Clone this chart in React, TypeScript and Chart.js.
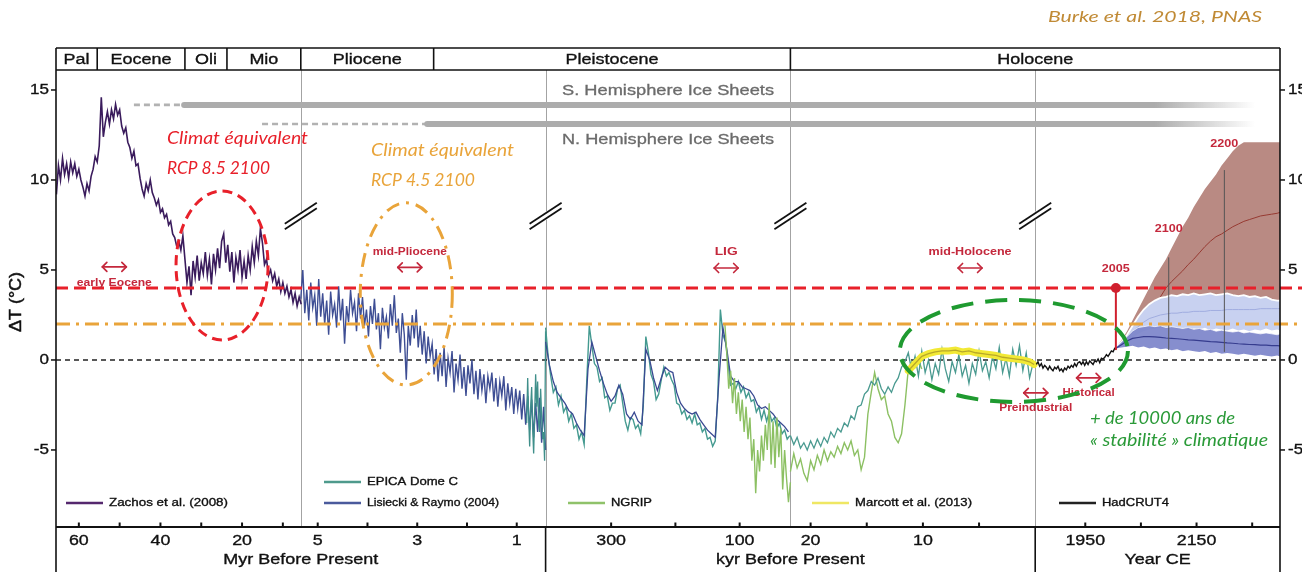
import React, { useEffect, useRef } from "react";
import { Chart, registerables } from "chart.js";

Chart.register(...registerables);

// ---------------- broken time axis: five panels ----------------
const panelRanges: [number, number][] = [
  [65.6, 5.6], // Myr
  [5.34, 0.42], // Myr
  [402, 21], // kyr
  [21.8, 0], // kyr
  [1860, 2300], // year CE
];
const U = (p: number, t: number) => p + (t - panelRanges[p][0]) / (panelRanges[p][1] - panelRanges[p][0]);

const majorTickPanels = [0, 0, 0, 1, 1, 1, 2, 2, 3, 3, 4, 4];
const majorTickValues = [60, 40, 20, 5, 3, 1, 300, 100, 20, 10, 1950, 2150];
const minorTickPanels = [0, 0, 0, 1, 1, 2, 3, 3, 4, 4];
const minorTickValues = [50, 30, 10, 4, 2, 200, 15, 5, 2050, 2250];
const axisTitles = ["Myr Before Present", "kyr Before Present", "Year CE"];
const axisTitleSpans = [[0, 2], [2, 4], [4, 5]];
const yTicks = [15, 10, 5, 0, -5];

const epochNames = ["Pal", "Eocene", "Oli", "Mio", "Pliocene", "Pleistocene", "Holocene"];
const epochBoundPanels = [0, 0, 0, 0, 1, 1, 3, 4];
const epochBoundAges = [65.6, 55.5, 34.0, 23.7, 5.34, 2.67, 21.8, 2300];

// ---------------- data ----------------
// Zachos et al. (2008), Myr, from 65.5 every 0.5 Myr
const zachosStart = 65.5, zachosStep = -0.5;
const zachosValues = [
  9.2, 10.8, 10.0, 11.2, 10.3, 10.9, 10.1, 11.0, 10.4, 10.9, 10.2, 10.6,
  10.0, 9.6, 9.1, 9.8, 9.4, 10.2, 10.6, 11.3, 11.0, 11.9,
  14.6, 12.4, 13.2, 13.8, 13.1, 13.9, 13.4, 14.2, 13.6, 13.9,
  13.0, 12.6, 12.9, 12.1, 11.8, 11.2, 11.6, 10.8, 10.9, 10.1, 9.5, 9.1, 9.8, 9.4, 10.0, 9.3, 9.0, 8.6, 8.9, 8.2,
  8.4, 7.9, 8.1, 7.5, 7.7, 7.0, 6.8, 6.3, 6.6, 6.1, 6.9, 5.6, 4.3, 5.2, 3.6, 5.5, 4.6, 5.8, 4.4, 5.4,
  4.8, 6.0, 4.7, 5.6, 4.2, 5.9, 5.0, 6.2, 5.1, 6.6, 7.0, 5.4, 6.4, 4.9, 6.0, 4.3, 5.7, 5.0, 6.1, 4.6,
  5.5, 4.5, 5.8, 5.0, 6.3, 5.4, 6.6, 5.8, 7.3, 6.5, 5.3, 5.6, 4.7, 5.0, 4.4, 4.8, 4.1, 4.5, 3.8, 4.3,
  3.7, 4.1, 3.5, 3.9, 3.2, 3.7, 3.0, 3.5, 3.1,
];
// Lisiecki & Raymo (2004), Myr, from 5.34 every 0.04 Myr
const lr04MyrStart = 5.34, lr04MyrStep = -0.04;
const lr04MyrValues = [
  3.4, 5.0, 2.6, 3.9, 2.2, 4.3, 2.9, 3.6, 1.9, 4.5,
  2.4, 3.7, 2.0, 3.3, 1.4, 3.8, 2.5, 3.1, 1.8, 4.1,
  2.2, 3.4, 0.9, 3.0, 2.1, 3.9, 2.6, 3.2, 1.6, 3.7,
  2.3, 3.5, 1.9, 2.8, 1.3, 3.0, 2.0, 3.4, 1.7, 2.6,
  0.6, 2.9, 1.8, 2.4, 1.2, 3.1, 1.9, 3.6, 1.5, 2.3,
  0.4, 2.6, 1.4, -1.1, 1.9, 0.8, 2.5, 1.2, 2.8, 0.7,
  1.9, 0.3, 1.6, -0.2, 1.3, 0.2, 0.9, -0.8, 0.6, -1.2,
  0.4, -0.9, 0.7, -1.5, 0.1, -0.7, 0.5, -1.8, -0.2, -1.1,
  0.3, -1.6, -0.4, -2.0, -0.3, -1.3, 0.0, -1.9, -0.6, -2.2,
  -0.5, -1.7, -0.8, -2.4, -0.9, -1.6, -0.7, -2.3, -1.0, -2.6,
  -1.2, -2.0, -0.9, -2.8, -1.3, -2.4, -1.5, -3.0, -1.6, -2.7,
  -1.7, -3.3, -1.9, -3.6, -2.0, -3.9, -2.2, -4.3, -2.4, -4.0,
  -2.1, -4.6, -2.6, -5.0,
];
// EPICA Dome C, Myr part, from 0.80 every 0.02 Myr
const epicaMyrStart = 0.8, epicaMyrStep = -0.02;
const epicaMyrValues = [-3.5, -1.0, -3.2, -4.8, -2.6, -1.5, -3.8, -5.2, -3.0, -0.8, -2.6, -1.2, -3.5, -4.0, -1.6, -3.1, -4.4, -4.0, -5.6, 1.6];
// EPICA Dome C, kyr, from 402 every 4 kyr
const epicaKyrStart = 402, epicaKyrStep = -4;
const epicaKyrValues = [
  1.8, 0.2, -0.9, -1.8, -1.5, -2.5, -2.0, -2.9, -2.6, -3.4,
  -3.0, -3.8, -3.6, -4.4, -4.0, -4.7, -1.2, 1.9, 0.8, -0.2,
  -0.4, -1.2, -1.0, -2.1, -2.0, -2.8, -2.4, -2.4, -1.6, -1.4,
  -2.4, -3.4, -3.9, -3.2, -3.3, -3.8, -3.6, -4.1, -2.6, 1.3,
  0.4, -0.8, -1.2, -2.2, -1.9, -1.1, -0.4, -0.9, -0.7, -1.1,
  -1.4, -2.4, -2.5, -3.0, -2.8, -3.3, -3.1, -3.5, -3.0, -3.6,
  -3.5, -4.0, -3.8, -4.4, -4.3, -4.8, -4.5, -2.0, 2.8, 1.4,
  1.0, -0.2, -1.4, -1.3, -1.6, -1.2, -1.8, -1.5, -2.1, -1.8,
  -2.3, -2.2, -2.9, -2.6, -3.3, -2.8, -3.4, -2.9, -3.4, -3.2,
  -3.8, -3.5, -4.1, -3.9, -4.4, -4.2,
];
// Lisiecki & Raymo (2004), kyr, from 402 every 6 kyr
const lr04KyrStart = 402, lr04KyrStep = -6;
const lr04KyrValues = [
  1.0, -0.3, -1.2, -1.8, -2.1, -2.4, -2.8, -3.0, -3.5, -3.9,
  -4.2, -0.5, 1.0, 0.2, -0.6, -1.3, -1.9, -2.3, -2.0, -1.4,
  -1.9, -3.0, -3.3, -2.9, -3.4, -3.6, 0.6, 0.0, -1.0, -1.7,
  -1.0, -0.4, -0.6, -0.7, -1.8, -2.4, -2.7, -2.9, -3.0, -2.9,
  -3.3, -3.6, -3.9, -4.1, -4.3, -1.0, 1.8, 0.6, -0.9, -1.2,
  -1.2, -1.5, -1.6, -1.7, -2.0, -2.5, -2.7, -2.6, -2.8, -3.0,
  -3.3, -3.5, -3.7, -4.0,
];
// NGRIP, kyr, from 123 every 3 kyr
const ngripKyrStart = 123, ngripKyrStep = -3;
const ngripKyrValues = [
  2.0, 0.4, -1.6, -0.6, -2.4, -1.0, -3.0, -1.8, -3.4, -2.2, -4.0, -2.6, -4.4, -3.2, -5.6, -4.4, -7.4, -5.0,
  -6.2, -4.2, -5.6, -3.6, -5.0, -2.4, -5.8, -3.4, -6.0, -3.2, -5.4, -3.8, -7.2, -5.0, -6.6, -7.9, -6.8,
];
// NGRIP, last deglaciation, from 21.8 kyr every 0.3 kyr
const ngripDeglStart = 21.8, ngripDeglStep = -0.3;
const ngripDeglValues = [
  -6.2, -5.2, -6.0, -5.5, -6.3, -6.7, -5.6, -6.1, -5.3, -5.8, -5.0, -5.6, -5.1, -5.4, -4.8, -5.2, -4.6, -5.0,
  -4.5, -5.3, -5.0, -6.1, -5.4, -3.0, -1.8, -0.7, -1.6, -2.2, -2.0, -3.0, -3.4, -4.3, -4.6, -4.1, -2.5, -0.5,
  -0.1, -0.4, 0.0, -0.5,
];
// EPICA Dome C, last deglaciation + Holocene, from 21.8 kyr every 0.3 kyr
const epicaDeglStart = 21.8, epicaDeglStep = -0.3;
const epicaDeglValues = [
  -4.2, -4.7, -4.3, -4.9, -4.6, -5.0, -4.5, -4.9, -4.4, -4.8,
  -4.3, -4.6, -4.0, -4.3, -3.8, -4.0, -3.5, -3.7, -3.1, -3.3,
  -2.6, -2.5, -1.9, -1.7, -1.2, -1.4, -1.0, -1.6, -1.9, -1.5,
  -1.8, -1.3, -1.0, -0.4, -0.1, 0.4, -0.6, 0.2, -0.9, 0.5,
  -0.7, 0.0, -1.1, -0.2, -0.8, 0.6, -0.5, -1.2, -0.1, -0.7,
  0.3, -0.9, -0.3, -1.3, -0.2, -0.8, 0.5, -0.6, -0.1, -1.0,
  0.2, -0.5, 0.7, -0.7, 0.1, -0.9, 0.6, -0.3, 0.8, -0.6,
  0.4, -1.0, -0.2,
];
// Marcott et al. (2013), kyr
const marcottAges = [11.3, 10.7, 10.1, 9.5, 8.9, 8.3, 7.7, 7.1, 6.5, 5.9, 5.3, 4.7, 4.1, 3.5, 2.9, 2.3, 1.7, 1.1, 0.5, 0.1];
const marcottValues = [-0.6, -0.2, 0.2, 0.35, 0.45, 0.5, 0.5, 0.55, 0.45, 0.5, 0.4, 0.35, 0.3, 0.25, 0.15, 0.1, 0.05, 0.0, -0.1, -0.25];
// HadCRUT4, year CE, from 1862 every 3 years
const hadStart = 1862, hadStep = 3;
const hadValues = [
  -0.25, -0.1, -0.35, -0.2, -0.45, -0.3, -0.4, -0.55, -0.35, -0.5,
  -0.6, -0.4, -0.5, -0.35, -0.6, -0.5, -0.65, -0.45, -0.55, -0.35,
  -0.45, -0.3, -0.4, -0.2, -0.35, -0.15, -0.1, -0.25, -0.1, -0.3,
  -0.1, -0.25, -0.05, -0.15, -0.25, -0.05, -0.1, 0.05, -0.15, 0.1,
  0.05, 0.15, 0.3, 0.2, 0.35, 0.5, 0.45, 0.65, 0.7,
];
// Projections, year CE
const projYears = [2005, 2015, 2025, 2035, 2045, 2055, 2065, 2075, 2085, 2095, 2105, 2115, 2125, 2135, 2145, 2155, 2165, 2175, 2185, 2195, 2205, 2215, 2225, 2235, 2245, 2255, 2265, 2275, 2285, 2295, 2300];
const rcp85Upper = [0.7, 1.1, 1.6, 2.2, 2.8, 3.4, 4.0, 4.6, 5.1, 5.6, 6.2, 6.8, 7.4, 7.9, 8.5, 9.0, 9.5, 9.9, 10.3, 10.8, 11.2, 11.6, 11.9, 12.1, 12.1, 12.1, 12.1, 12.1, 12.1, 12.1, 12.1];
const rcp85Lower = [0.6, 0.7, 0.9, 1.2, 1.6, 2.0, 2.3, 2.6, 2.9, 3.2, 3.35, 3.4, 3.45, 3.5, 3.5, 3.5, 3.5, 3.5, 3.5, 3.5, 3.45, 3.45, 3.4, 3.4, 3.35, 3.3, 3.3, 3.25, 3.25, 3.2, 3.2];
const rcp85Mean = [0.65, 0.9, 1.2, 1.5, 1.85, 2.2, 2.6, 3.0, 3.5, 4.0, 4.35, 4.65, 4.95, 5.3, 5.6, 5.95, 6.3, 6.6, 6.85, 7.0, 7.2, 7.4, 7.55, 7.7, 7.8, 7.9, 8.0, 8.05, 8.1, 8.15, 8.2];
const rcp45Upper = [0.7, 1.0, 1.4, 1.9, 2.4, 2.8, 3.1, 3.3, 3.45, 3.5, 3.6, 3.55, 3.65, 3.6, 3.7, 3.6, 3.65, 3.7, 3.6, 3.65, 3.7, 3.6, 3.55, 3.6, 3.5, 3.55, 3.45, 3.5, 3.35, 3.3, 3.3];
const rcp45Lower = [0.6, 0.75, 0.95, 1.2, 1.4, 1.55, 1.65, 1.7, 1.75, 1.7, 1.8, 1.65, 1.75, 1.6, 1.7, 1.65, 1.75, 1.6, 1.7, 1.65, 1.6, 1.7, 1.6, 1.65, 1.55, 1.65, 1.6, 1.7, 1.6, 1.65, 1.6];
const rcp45Mean = [0.65, 0.9, 1.2, 1.55, 1.85, 2.1, 2.3, 2.4, 2.5, 2.55, 2.6, 2.6, 2.65, 2.65, 2.7, 2.7, 2.7, 2.75, 2.75, 2.75, 2.8, 2.8, 2.8, 2.8, 2.8, 2.8, 2.85, 2.85, 2.85, 2.85, 2.85];
const rcp26Upper = [0.7, 1.0, 1.3, 1.6, 1.8, 1.85, 1.9, 1.85, 1.9, 1.8, 1.85, 1.8, 1.75, 1.8, 1.7, 1.75, 1.65, 1.7, 1.6, 1.65, 1.6, 1.55, 1.6, 1.5, 1.55, 1.5, 1.45, 1.5, 1.45, 1.4, 1.45];
const rcp26Lower = [0.6, 0.65, 0.7, 0.75, 0.65, 0.7, 0.6, 0.65, 0.55, 0.6, 0.5, 0.55, 0.45, 0.5, 0.45, 0.4, 0.45, 0.35, 0.4, 0.3, 0.35, 0.3, 0.25, 0.3, 0.25, 0.2, 0.25, 0.2, 0.15, 0.2, 0.15];
const rcp26Mean = [0.65, 0.85, 1.05, 1.2, 1.25, 1.3, 1.3, 1.28, 1.25, 1.22, 1.2, 1.18, 1.15, 1.12, 1.1, 1.08, 1.05, 1.02, 1.0, 0.98, 0.95, 0.93, 0.9, 0.88, 0.86, 0.85, 0.83, 0.82, 0.8, 0.8, 0.78];
const milestoneYears = [2100, 2200];
const milestoneTops = [5.7, 10.55];
const milestoneBottoms = [0.55, 0.45];
const marker2005 = { year: 2005, from: 0.55, to: 4 };

// reference levels
const rcp85Level = 4;
const rcp45Level = 2;

// ice sheets
const iceNames = ["S. Hemisphere Ice Sheets", "N. Hemisphere Ice Sheets"];
const iceDotStart: [number, number][] = [[0, 46.5], [0, 15.1]];
const iceSolidStart: [number, number][] = [[0, 34.2], [1, 2.8]];
const iceFade = [2075, 2255];
const iceBarLevels = [14.17, 13.11];
const iceLabelLevels = [14.94, 12.22];

// ---------------- helpers ----------------
const SANS = '"Liberation Sans", Arial, Helvetica, sans-serif';
const HUM = 'Lato, "Open Sans", "Noto Sans", sans-serif';
const CRIMSON = "#c4283c";
const RED = "#e8202a";
const ORANGE = "#e9a43a";
const GREEN = "#1f9a30";

const grid = (start: number, step: number, n: number) => Array.from({ length: n }, (_, i) => start + i * step);
const series = (p: number, ages: number[], vals: number[]) => vals.map((v, i) => ({ x: U(p, ages[i]), y: v }));
const regular = (p: number, start: number, step: number, vals: number[]) => series(p, grid(start, step, vals.length), vals);

function T(ctx: any, s: string, x: number, y: number, size: number, color: string, opt: any = {}) {
  ctx.save();
  ctx.font = `${opt.italic ? "italic " : ""}${opt.bold ? "bold " : ""}${size}px ${opt.family || SANS}`;
  ctx.fillStyle = color;
  ctx.textAlign = opt.align || "center";
  ctx.textBaseline = "middle";
  let sx = opt.sx || 1;
  if (opt.width) {
    const w = ctx.measureText(s).width;
    if (w > 0) sx = opt.width / w;
  }
  ctx.translate(x, y);
  if (opt.rot) ctx.rotate(opt.rot);
  ctx.scale(sx, 1);
  ctx.fillText(s, 0, 0);
  if (opt.heavy) {
    ctx.strokeStyle = color;
    ctx.lineWidth = opt.heavy;
    ctx.strokeText(s, 0, 0);
  }
  ctx.restore();
}
function L(ctx: any, x1: number, y1: number, x2: number, y2: number) {
  ctx.beginPath();
  ctx.moveTo(x1, y1);
  ctx.lineTo(x2, y2);
  ctx.stroke();
}
function dbl(ctx: any, cx: number, cy: number, w: number) {
  ctx.save();
  ctx.strokeStyle = CRIMSON;
  ctx.lineWidth = 1.7;
  ctx.lineCap = "round";
  ctx.lineJoin = "round";
  const a = cx - w / 2, b = cx + w / 2, h = 4.5;
  L(ctx, a, cy, b, cy);
  ctx.beginPath(); ctx.moveTo(a + h, cy - h); ctx.lineTo(a, cy); ctx.lineTo(a + h, cy + h); ctx.stroke();
  ctx.beginPath(); ctx.moveTo(b - h, cy - h); ctx.lineTo(b, cy); ctx.lineTo(b - h, cy + h); ctx.stroke();
  ctx.restore();
}
function ell(ctx: any, cx: number, cy: number, rx: number, ry: number, color: string, dash: number[], w: number) {
  ctx.save();
  ctx.strokeStyle = color;
  ctx.lineWidth = w;
  ctx.setLineDash(dash);
  ctx.beginPath();
  ctx.ellipse(cx, cy, rx, ry, 0, 0, Math.PI * 2);
  ctx.stroke();
  ctx.restore();
}

// annotations (anchored in data coordinates: panel, age, ΔT)
const periodNotes = [
  { label: "early Eocene", p: 0, t: 51.3, textV: 4.28, arrowV: 5.17, w: 75 },
  { label: "mid-Pliocene", p: 1, t: 3.15, textV: 6.0, arrowV: 5.14, w: 74 },
  { label: "LIG", p: 2, t: 121, textV: 6.0, arrowV: 5.11, w: 23 },
  { label: "mid-Holocene", p: 3, t: 5.8, textV: 6.0, arrowV: 5.11, w: 83 },
  { label: "Preindustrial", p: 4, t: 1861, textV: -2.67, arrowV: -1.83, w: 73 },
  { label: "Historical", p: 4, t: 1956, textV: -1.83, arrowV: -1.0, w: 52 },
];
const yearNotes = [
  { label: "2005", t: 2005, v: 5.06 },
  { label: "2100", t: 2100, v: 7.28 },
  { label: "2200", t: 2200, v: 12.0 },
];
const ellipses = [
  { p: 0, t: 24.9, v: 5.25, ru: 0.188, rv: 4.14, color: RED, dash: [10, 6], w: 3 },
  { p: 1, t: 3.22, v: 3.67, ru: 0.188, rv: 5.06, color: ORANGE, dash: [14, 7, 3, 7], w: 3 },
  { p: 3, t: 1.9, v: 0.5, ru: 0.466, rv: 2.83, color: GREEN, dash: [22, 12], w: 4 },
];
const breakLevel = 8.0;
const noteTexts = [
  { lines: ["Climat équivalent", "RCP 8.5 2100"], widths: [141, 103], p: 0, t: 38.4, v: [12.33, 10.67], color: RED },
  { lines: ["Climat équivalent", "RCP 4.5 2100"], widths: [143, 104], p: 1, t: 3.93, v: [11.67, 10.0], color: ORANGE },
  { lines: ["+ de 10000 ans de", "« stabilité » climatique"], widths: [145, 178], p: 4, t: 1958.6, v: [-3.22, -4.44], color: "#2a9a38" },
];
const legendLabels = ["Zachos et al. (2008)", "EPICA Dome C", "Lisiecki & Raymo (2004)", "NGRIP", "Marcott et al. (2013)", "HadCRUT4"];
const legendColors = ["#55286e", "#4e9a8c", "#4a5a9c", "#8fc26a", "#efe763", "#222222"];
const legendPos = [[66, 503, 119], [324, 482, 91], [324, 503, 132], [568, 503, 41], [812, 503, 117], [1059, 503, 67]];

const overlay = {
  id: "overlay",
  beforeDatasetsDraw(chart: any) {
    const { ctx, chartArea: ca, scales } = chart;
    const X = (u: number) => scales.x.getPixelForValue(u);
    const Y = (v: number) => scales.y.getPixelForValue(v);
    ctx.save();
    ctx.strokeStyle = "#a3a3a3";
    ctx.lineWidth = 1;
    for (let p = 1; p < 5; p++) {
      const px = Math.round(X(p)) + 0.5;
      L(ctx, px, ca.top, px, ca.bottom);
    }
    ctx.strokeStyle = "#222";
    ctx.lineWidth = 1.5;
    ctx.setLineDash([5, 4]);
    L(ctx, ca.left, Y(0), ca.right, Y(0));
    ctx.setLineDash([]);
    // ice sheets
    for (let i = 0; i < 2; i++) {
      const yb = Y(iceBarLevels[i]);
      const xd = X(U(iceDotStart[i][0], iceDotStart[i][1]));
      const xs = X(U(iceSolidStart[i][0], iceSolidStart[i][1]));
      const xf0 = X(U(4, iceFade[0]));
      const xf1 = X(U(4, iceFade[1]));
      ctx.strokeStyle = "#b2b2b2";
      ctx.lineWidth = 2.6;
      ctx.setLineDash([6, 4]);
      L(ctx, xd, yb, xs - 2, yb);
      ctx.setLineDash([]);
      const g = ctx.createLinearGradient(xf0, 0, xf1, 0);
      g.addColorStop(0, "rgba(172,172,172,1)");
      g.addColorStop(1, "rgba(172,172,172,0)");
      ctx.strokeStyle = g;
      ctx.lineWidth = 6;
      ctx.lineCap = "round";
      L(ctx, xs, yb, xf1, yb);
      ctx.lineCap = "butt";
      T(ctx, iceNames[i], X(2.5), Y(iceLabelLevels[i]), 15, "#6b6b6b", { width: 212, heavy: 0.3 });
    }
    ctx.restore();
  },
  afterDatasetsDraw(chart: any) {
    const { ctx, chartArea: ca, scales } = chart;
    const X = (u: number) => scales.x.getPixelForValue(u);
    const Y = (v: number) => scales.y.getPixelForValue(v);
    ctx.save();
    // milestone lines 2100 / 2200
    ctx.strokeStyle = "#555";
    ctx.lineWidth = 1;
    milestoneYears.forEach((yr, i) => {
      const px = X(U(4, yr));
      L(ctx, px, Y(milestoneTops[i]), px, Y(milestoneBottoms[i]));
    });
    // reference levels
    ctx.lineWidth = 3;
    ctx.strokeStyle = RED;
    ctx.setLineDash([12, 6]);
    L(ctx, ca.left, Y(rcp85Level), chart.width, Y(rcp85Level));
    ctx.strokeStyle = ORANGE;
    ctx.setLineDash([14, 6, 3, 6]);
    L(ctx, ca.left, Y(rcp45Level), chart.width, Y(rcp45Level));
    ctx.setLineDash([]);
    // 2005 marker
    const x05 = X(U(4, marker2005.year));
    ctx.strokeStyle = "#d0202e";
    ctx.lineWidth = 2;
    L(ctx, x05, Y(marker2005.from), x05, Y(marker2005.to));
    ctx.fillStyle = "#d0202e";
    ctx.beginPath();
    ctx.arc(x05, Y(marker2005.to), 5, 0, Math.PI * 2);
    ctx.fill();
    // axis breaks
    for (let p = 1; p < 5; p++) {
      const cx = X(p), cy = Y(breakLevel);
      ctx.strokeStyle = "#fff";
      ctx.lineWidth = 7;
      L(ctx, cx - 15, cy + 10, cx + 15, cy - 10);
      ctx.strokeStyle = "#111";
      ctx.lineWidth = 1.8;
      for (const o of [-2.8, 2.8]) L(ctx, cx - 16, cy + 10.5 + o, cx + 16, cy - 10.5 + o);
    }
    // period annotations
    periodNotes.forEach((n) => {
      const px = X(U(n.p, n.t));
      dbl(ctx, px, Y(n.arrowV), 24);
      T(ctx, n.label, px, Y(n.textV), 11, CRIMSON, { bold: true, width: n.w });
    });
    yearNotes.forEach((n) => {
      T(ctx, n.label, X(U(4, n.t)), Y(n.v), 11, CRIMSON, { bold: true, width: 28 });
    });
    // italic notes
    noteTexts.forEach((n) => {
      n.lines.forEach((s, i) => {
        T(ctx, s, X(U(n.p, n.t)), Y(n.v[i]), 18, n.color, { italic: true, family: HUM, align: "left", width: n.widths[i] });
      });
    });
    // ellipses
    ellipses.forEach((e) => {
      const u = U(e.p, e.t);
      const cx = X(u), cy = Y(e.v);
      ell(ctx, cx, cy, X(u + e.ru) - cx, cy - Y(e.v + e.rv), e.color, e.dash, e.w);
    });
    // legend
    legendLabels.forEach((s, i) => {
      const [lx, ly, tw] = legendPos[i];
      ctx.strokeStyle = legendColors[i];
      ctx.lineWidth = 2.6;
      L(ctx, lx, ly, lx + 37, ly);
      T(ctx, s, lx + 43, ly, 11.5, "#111", { align: "left", width: tw, heavy: 0.35 });
    });
    ctx.restore();
  },
  afterDraw(chart: any) {
    const { ctx, chartArea: ca, scales } = chart;
    const X = (u: number) => scales.x.getPixelForValue(u);
    const Y = (v: number) => scales.y.getPixelForValue(v);
    const bandTop = ca.top - 22;
    const H = chart.height;
    ctx.save();
    ctx.strokeStyle = "#111";
    ctx.lineWidth = 1.6;
    L(ctx, ca.left, bandTop, ca.right, bandTop);
    L(ctx, ca.left, ca.top, ca.right, ca.top);
    L(ctx, ca.left, bandTop, ca.left, H);
    L(ctx, ca.right, bandTop, ca.right, H);
    // epochs band
    for (let i = 0; i < epochNames.length; i++) {
      const xa = X(U(epochBoundPanels[i], epochBoundAges[i]));
      const xb = X(U(epochBoundPanels[i + 1], epochBoundAges[i + 1]));
      if (i > 0) L(ctx, xa, bandTop, xa, ca.top);
      T(ctx, epochNames[i], (xa + xb) / 2, (bandTop + ca.top) / 2 + 0.5, 15.5, "#111", { sx: 1.16, heavy: 0.35 });
    }
    // bottom axis
    ctx.lineWidth = 2;
    L(ctx, ca.left, ca.bottom, ca.right, ca.bottom);
    ctx.lineWidth = 1.6;
    L(ctx, X(2), ca.bottom, X(2), H);
    L(ctx, X(4), ca.bottom, X(4), H);
    ctx.lineWidth = 2;
    majorTickValues.forEach((v, i) => {
      const px = X(U(majorTickPanels[i], v));
      L(ctx, px, ca.bottom, px, ca.bottom - 4.5);
      T(ctx, String(v), px, ca.bottom + 13.5, 15.5, "#111", { sx: 1.15, heavy: 0.35 });
    });
    minorTickValues.forEach((v, i) => {
      const px = X(U(minorTickPanels[i], v));
      L(ctx, px, ca.bottom, px, ca.bottom - 4.5);
    });
    axisTitles.forEach((s, i) => {
      const cx = (X(axisTitleSpans[i][0]) + X(axisTitleSpans[i][1])) / 2;
      T(ctx, s, cx, ca.bottom + 33, 15.5, "#111", { sx: 1.16, heavy: 0.35 });
    });
    // y axes
    ctx.lineWidth = 1.5;
    yTicks.forEach((v) => {
      const py = Y(v);
      L(ctx, ca.left - 5, py, ca.left, py);
      L(ctx, ca.right, py, ca.right + 5, py);
      T(ctx, String(v), ca.left - 7, py, 15.5, "#111", { align: "right", sx: 1.1, heavy: 0.35 });
      T(ctx, String(v), ca.right + 8, py, 15.5, "#111", { align: "left", sx: 1.1, heavy: 0.35 });
    });
    T(ctx, "ΔT (°C)", 17, 302, 16, "#111", { rot: -Math.PI / 2, width: 60, heavy: 0.5 });
    // source
    T(ctx, "Burke et al. 2018, PNAS", 1048, 17, 16, "#c08a35", { italic: true, family: HUM, align: "left", width: 214 });
    ctx.restore();
  },
};

function buildDatasets() {
  const ds: any[] = [];
  const add = (d: any) => {
    ds.push({ pointRadius: 0, tension: 0, fill: false, borderWidth: 1.2, ...d });
    return ds.length - 1;
  };
  const clear = "rgba(0,0,0,0)";
  // projections
  const a = add({ data: series(4, projYears, rcp85Lower), borderColor: clear, borderWidth: 0, order: 40 });
  add({ data: series(4, projYears, rcp85Upper), borderColor: clear, borderWidth: 0, fill: a, backgroundColor: "#b98a83", order: 40 });
  add({ data: series(4, projYears, rcp85Mean), borderColor: "#973a32", borderWidth: 1, order: 39 });
  const b = add({ data: series(4, projYears, rcp45Lower), borderColor: "#ffffff", borderWidth: 1.5, order: 38 });
  add({ data: series(4, projYears, rcp45Upper), borderColor: "#ffffff", borderWidth: 1.8, fill: b, backgroundColor: "#c8d1f0", order: 38 });
  add({ data: series(4, projYears, rcp45Mean), borderColor: "#a1ade0", borderWidth: 1, order: 37 });
  const c = add({ data: series(4, projYears, rcp26Lower), borderColor: "#ffffff", borderWidth: 1.5, order: 36 });
  add({ data: series(4, projYears, rcp26Upper), borderColor: "rgba(255,255,255,0.7)", borderWidth: 1, fill: c, backgroundColor: "rgba(124,132,202,0.92)", order: 36 });
  add({ data: series(4, projYears, rcp26Mean), borderColor: "#363c8e", borderWidth: 1.2, order: 35 });
  // paleo records
  add({ data: regular(0, zachosStart, zachosStep, zachosValues), borderColor: "#3a1b5c", borderWidth: 1.6, order: 30 });
  add({ data: regular(1, lr04MyrStart, lr04MyrStep, lr04MyrValues), borderColor: "#3e4e94", borderWidth: 1.4, order: 29 });
  add({ data: regular(1, epicaMyrStart, epicaMyrStep, epicaMyrValues), borderColor: "#3f8f8a", borderWidth: 1.3, order: 28 });
  add({ data: regular(2, epicaKyrStart, epicaKyrStep, epicaKyrValues), borderColor: "#449a90", borderWidth: 1.4, order: 27 });
  add({ data: regular(2, lr04KyrStart, lr04KyrStep, lr04KyrValues), borderColor: "#3a4a92", borderWidth: 1.3, order: 26 });
  add({ data: regular(2, ngripKyrStart, ngripKyrStep, ngripKyrValues), borderColor: "#8cc063", borderWidth: 1.4, order: 25 });
  add({ data: regular(3, ngripDeglStart, ngripDeglStep, ngripDeglValues), borderColor: "#8cc063", borderWidth: 1.4, order: 24 });
  add({ data: regular(3, epicaDeglStart, epicaDeglStep, epicaDeglValues), borderColor: "#4a9a90", borderWidth: 1.3, order: 23 });
  add({ data: series(3, marcottAges, marcottValues), borderColor: "#f2e935", borderWidth: 7, borderCapStyle: "round", order: 22 });
  add({ data: series(3, marcottAges, marcottValues), borderColor: "#b8a82a", borderWidth: 1.3, order: 21 });
  add({ data: regular(4, hadStart, hadStep, hadValues), borderColor: "#111111", borderWidth: 1.4, order: 20 });
  return ds;
}

export default function App() {
  const ref = useRef<HTMLCanvasElement>(null);
  useEffect(() => {
    const chart = new Chart(ref.current as HTMLCanvasElement, {
      type: "line",
      data: { datasets: buildDatasets() },
      options: {
        responsive: false,
        animation: false,
        devicePixelRatio: 1,
        events: [],
        layout: { padding: { left: 56, right: 22, top: 70, bottom: 45 } },
        plugins: { legend: { display: false }, tooltip: { enabled: false } },
        scales: {
          x: { type: "linear", min: 0, max: 5, display: false },
          y: { type: "linear", min: -9.28, max: 16.11, display: false },
        },
      } as any,
      plugins: [overlay as any],
    });
    return () => chart.destroy();
  }, []);
  return (
    <div style={{ position: "absolute", left: 0, top: 0, width: 1302, height: 572, background: "#fff" }}>
      <canvas ref={ref} width={1302} height={572} style={{ display: "block", width: 1302, height: 572 }} />
    </div>
  );
}
